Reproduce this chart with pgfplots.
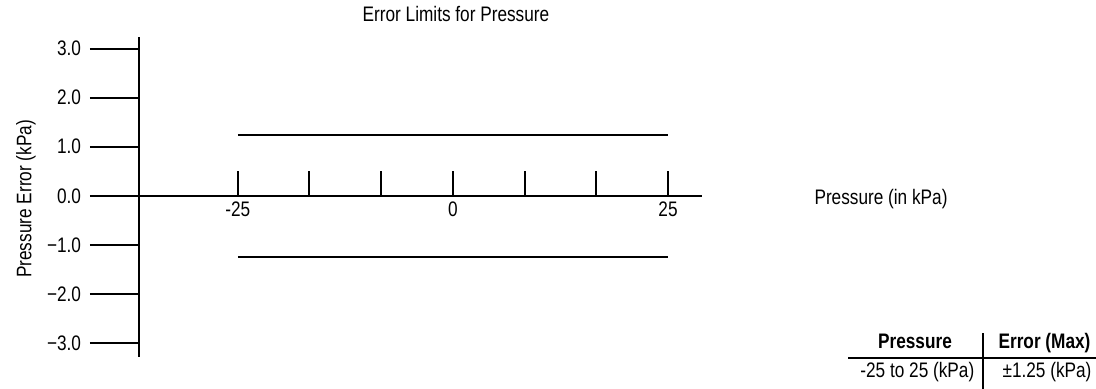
\documentclass[border=0pt]{standalone}
\usepackage{fontspec}
\setmainfont{Liberation Sans}[FakeStretch=0.82]
\usepackage{pgfplots}
\pgfplotsset{compat=1.18}
\begin{document}
\fontsize{15.75}{19}\selectfont
\begin{tikzpicture}
\useasboundingbox (0,0) rectangle (822pt,291.75pt);
% y axis
\begin{axis}[
  at={(104.25pt,24pt)}, anchor=south west,
  scale only axis, width=422.25pt, height=240pt,
  xmin=-36.48, xmax=28.95, ymin=-3.29, ymax=3.24,
  axis x line=none, axis y line*=left,
  axis line style={-, line width=1.5pt},
  ytick={-3,-2,-1,0,1,2,3},
  yticklabels={−3.0,−2.0,−1.0,0.0,1.0,2.0,3.0},
  tick align=outside,
  major tick length=36.75pt,
  tick style={line width=1.5pt, black},
  yticklabel style={font=\fontsize{15.75}{19}\selectfont, anchor=east, inner sep=0pt, xshift=-6.5pt},
  ylabel={Pressure Error (kPa)},
  ylabel style={at={(axis description cs:-0.2010,0.494)}, anchor=center, rotate=0, font=\fontsize{15.75}{19}\selectfont},
]
\end{axis}
% x axis and data
\begin{axis}[
  at={(104.25pt,24pt)}, anchor=south west,
  scale only axis, width=422.25pt, height=240pt,
  xmin=-36.48, xmax=28.95, ymin=-3.29, ymax=3.24,
  axis y line=none, axis x line=middle,
  axis line style={-, line width=1.5pt},
  every inner x axis line/.append style={-},
  hide obscured x ticks=false,
  xtick={-25,-16.6667,-8.3333,0,8.3333,16.6667,25},
  xticklabels={-25,,,0,,,25},
  tick align=inside,
  major tick length=18.75pt,
  tick style={line width=1.5pt, black},
  xticklabel style={font=\fontsize{15.75}{19}\selectfont, anchor=north, inner sep=2pt, yshift=-2pt},
  xlabel={Pressure (in kPa)},
  xlabel style={at={(axis description cs:1.318,0.478)}, anchor=base, font=\fontsize{15.75}{19}\selectfont},
  title={Error Limits for Pressure},
  title style={at={(axis description cs:0.563,1.024)}, anchor=base, font=\fontsize{15.75}{19}\selectfont},
  clip=false,
]
\addplot[black, line width=1.5pt] coordinates {(-25,1.25) (25,1.25)};
\addplot[black, line width=1.5pt] coordinates {(-25,-1.25) (25,-1.25)};
\end{axis}
% table
\node[anchor=base, inner sep=0pt] at (686.25pt,30pt) {\textbf{Pressure}};
\node[anchor=base, inner sep=0pt] at (783.4pt,30pt) {\textbf{Error (Max)}};
\node[anchor=base, inner sep=0pt] at (688pt,9pt) {-25 to 25 (kPa)};
\node[anchor=base, inner sep=0pt] at (785.25pt,9pt) {±1.25 (kPa)};
\draw[line width=1.2pt] (636pt,23.25pt) -- (822pt,23.25pt);
\draw[line width=1.2pt] (737.25pt,0pt) -- (737.25pt,42pt);
\end{tikzpicture}
\end{document}
